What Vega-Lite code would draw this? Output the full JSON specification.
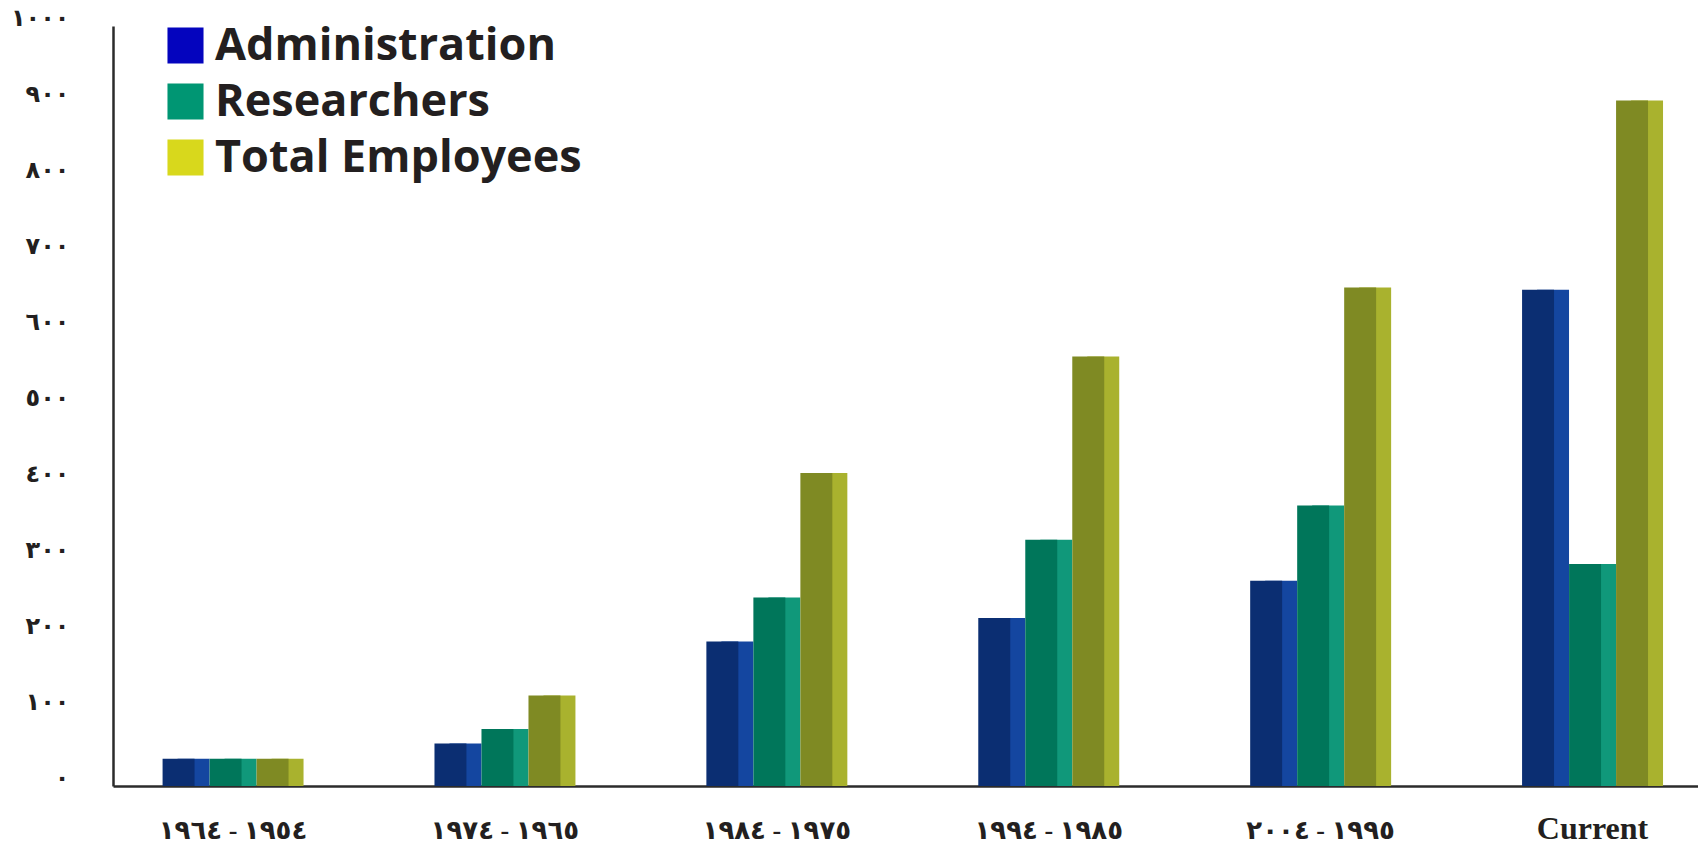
{
  "$schema": "https://vega.github.io/schema/vega-lite/v6.json",
  "width": 1585,
  "height": 760,
  "autosize": "none",
  "padding": {"left": 113, "top": 26, "right": 0, "bottom": 58},
  "background": "white",
  "config": {"view": {"stroke": null}},
  "data": {
    "values": [
      {"period": "١٩٥٤ - ١٩٦٤", "series": "Administration", "value": 36},
      {"period": "١٩٥٤ - ١٩٦٤", "series": "Researchers", "value": 36},
      {"period": "١٩٥٤ - ١٩٦٤", "series": "Total Employees", "value": 36},
      {"period": "١٩٦٥ - ١٩٧٤", "series": "Administration", "value": 56},
      {"period": "١٩٦٥ - ١٩٧٤", "series": "Researchers", "value": 75},
      {"period": "١٩٦٥ - ١٩٧٤", "series": "Total Employees", "value": 119},
      {"period": "١٩٧٥ - ١٩٨٤", "series": "Administration", "value": 190},
      {"period": "١٩٧٥ - ١٩٨٤", "series": "Researchers", "value": 248},
      {"period": "١٩٧٥ - ١٩٨٤", "series": "Total Employees", "value": 412},
      {"period": "١٩٨٥ - ١٩٩٤", "series": "Administration", "value": 221},
      {"period": "١٩٨٥ - ١٩٩٤", "series": "Researchers", "value": 324},
      {"period": "١٩٨٥ - ١٩٩٤", "series": "Total Employees", "value": 565},
      {"period": "١٩٩٥ - ٢٠٠٤", "series": "Administration", "value": 270},
      {"period": "١٩٩٥ - ٢٠٠٤", "series": "Researchers", "value": 369},
      {"period": "١٩٩٥ - ٢٠٠٤", "series": "Total Employees", "value": 656},
      {"period": "Current", "series": "Administration", "value": 653},
      {"period": "Current", "series": "Researchers", "value": 292},
      {"period": "Current", "series": "Total Employees", "value": 902}
    ]
  },
  "encoding": {
    "x": {
      "field": "period",
      "type": "nominal",
      "sort": ["١٩٥٤ - ١٩٦٤", "١٩٦٥ - ١٩٧٤", "١٩٧٥ - ١٩٨٤", "١٩٨٥ - ١٩٩٤", "١٩٩٥ - ٢٠٠٤", "Current"],
      "scale": {"paddingInner": 0.4814, "paddingOuter": 0.1554, "align": 0.586},
      "axis": {
        "title": null,
        "labelAngle": 0,
        "ticks": false,
        "domainColor": "#2b2b2b",
        "domainWidth": 2.5,
        "labelBaseline": "alphabetic",
        "labelPadding": 52,
        "labelOffset": 0,
        "labelFont": "Liberation Serif, DejaVu Sans",
        "labelFontSize": {"condition": {"test": "datum.value == 'Current'", "value": 32}, "value": 26},
        "labelFontWeight": "bold",
        "labelColor": "#231f20"
      }
    },
    "y": {
      "field": "value",
      "type": "quantitative",
      "scale": {"domain": [0, 1000]},
      "axis": {
        "title": null,
        "values": [0, 100, 200, 300, 400, 500, 600, 700, 800, 900, 1000],
        "format": "d",
        "labelExpr": "replace(replace(replace(replace(replace(replace(replace(replace(replace(replace(datum.label, regexp('0','g'), '٠'), regexp('1','g'), '١'), regexp('2','g'), '٢'), regexp('3','g'), '٣'), regexp('4','g'), '٤'), regexp('5','g'), '٥'), regexp('6','g'), '٦'), regexp('7','g'), '٧'), regexp('8','g'), '٨'), regexp('9','g'), '٩')",
        "grid": false,
        "ticks": false,
        "domainColor": "#2b2b2b",
        "domainWidth": 2.5,
        "labelPadding": 44,
        "labelOffset": -8,
        "labelFont": "DejaVu Sans",
        "labelFontSize": 24,
        "labelFontWeight": "bold",
        "labelColor": "#231f20"
      }
    }
  },
  "layer": [
    {
      "mark": {"type": "bar", "width": {"band": 0.68}},
      "encoding": {
        "xOffset": {"field": "series", "sort": ["Administration", "Researchers", "Total Employees"], "scale": {"range": [-7.5, 133.5], "paddingInner": 0, "paddingOuter": 0}},
        "fill": {
          "field": "series",
          "scale": {"domain": ["Administration", "Researchers", "Total Employees"], "range": ["#1446a0", "#10987a", "#a9b22e"]},
          "legend": null
        }
      }
    },
    {
      "mark": {"type": "bar", "width": {"band": 0.68}},
      "encoding": {
        "xOffset": {"field": "series", "sort": ["Administration", "Researchers", "Total Employees"], "scale": {"range": [-22.5, 118.5], "paddingInner": 0, "paddingOuter": 0}},
        "fill": {
          "field": "series",
          "scale": {"domain": ["Administration", "Researchers", "Total Employees"], "range": ["#0b2e72", "#00765a", "#7f8a23"]},
          "legend": null
        }
      }
    },
    {
      "mark": {"type": "point", "shape": "square", "filled": true, "opacity": 0},
      "encoding": {
        "color": {
          "field": "series",
          "scale": {"domain": ["Administration", "Researchers", "Total Employees"], "range": ["#0404be", "#009673", "#d8d81c"]},
          "legend": {
            "title": null,
            "orient": "none",
            "legendX": 50,
            "legendY": -3,
            "symbolType": "square",
            "symbolSize": 1300,
            "symbolOpacity": 1,
            "symbolStrokeWidth": 0,
            "labelFont": "Open Sans",
            "labelFontSize": 45,
            "labelFontWeight": "bold",
            "labelColor": "#231f20",
            "labelOffset": 7,
            "rowPadding": 10,
            "labelLimit": 700
          }
        }
      }
    }
  ],
  "resolve": {"scale": {"xOffset": "independent", "fill": "independent"}}
}
